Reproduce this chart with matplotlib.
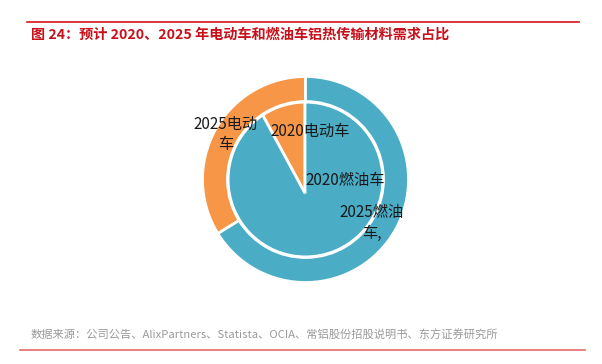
import matplotlib
matplotlib.use('Agg')
import matplotlib.pyplot as plt
from matplotlib.patches import Wedge

plt.rcParams['font.family'] = ['Noto Sans CJK SC', 'DejaVu Sans']

# 数据
title = '图 24：预计 2020、2025 年电动车和燃油车铝热传输材料需求占比'
source = '数据来源：公司公告、AlixPartners、Statista、OCIA、常铝股份招股说明书、东方证券研究所'
labels_2020 = ['2020电动车', '2020燃油车']
share_2020 = [7.9, 92.1]
labels_2025 = ['2025电动\n车', '2025燃油\n车,']
share_2025 = [33.8, 66.2]
colors = ['#F79646', '#4BACC6']

W, H = 602, 364
fig = plt.figure(figsize=(W / 100, H / 100), dpi=100)
ax = fig.add_axes([0, 0, 1, 1])

def py(y):
    # 像素坐标(从上往下) -> 数据坐标
    return H - y

ring_c = (305.5, py(179.5))

# 内饼 2020（圆心略偏下，外面用白色圆环盖住）
wedges, _ = ax.pie(share_2020, radius=110, center=(305, py(193.3)), startangle=90,
                   counterclock=True, colors=colors,
                   wedgeprops=dict(edgecolor='white', linewidth=2, zorder=1))
ax.add_patch(Wedge(ring_c, 200, 0, 360, width=124, facecolor='white',
                   edgecolor='none', zorder=2))

# 外圈 2025
ax.pie(share_2025, radius=103, center=ring_c, startangle=90, counterclock=True,
       colors=colors, wedgeprops=dict(width=25, edgecolor='white', linewidth=2, zorder=3))

ax.set_xlim(0, W)
ax.set_ylim(0, H)
ax.set_aspect('equal')
ax.axis('off')

# 标签
lab_kw = dict(fontsize=11, color='#1a1a1a', ha='center', va='center',
              linespacing=1.25, zorder=5)
ax.text(226, py(134), labels_2025[0], **lab_kw)
ax.text(310, py(131.5), labels_2020[0], **lab_kw)
ax.text(345, py(180), labels_2020[1], **lab_kw)
ax.text(372, py(223), labels_2025[1], **lab_kw)

# 标题与线条
ax.plot([27, 579], [py(22), py(22)], color='#D7141A', lw=1.2, zorder=5)
ax.text(31, py(35), title, fontsize=10.2, fontweight='bold', color='#C8101A',
        ha='left', va='center', zorder=5)
ax.text(31, py(335), source, fontsize=8.1, color='#9a9a9a', ha='left', va='center', zorder=5)
ax.plot([20, 585], [py(350), py(350)], color='#E86A6A', lw=1.2, zorder=5)

fig.savefig('out.png', dpi=100)
